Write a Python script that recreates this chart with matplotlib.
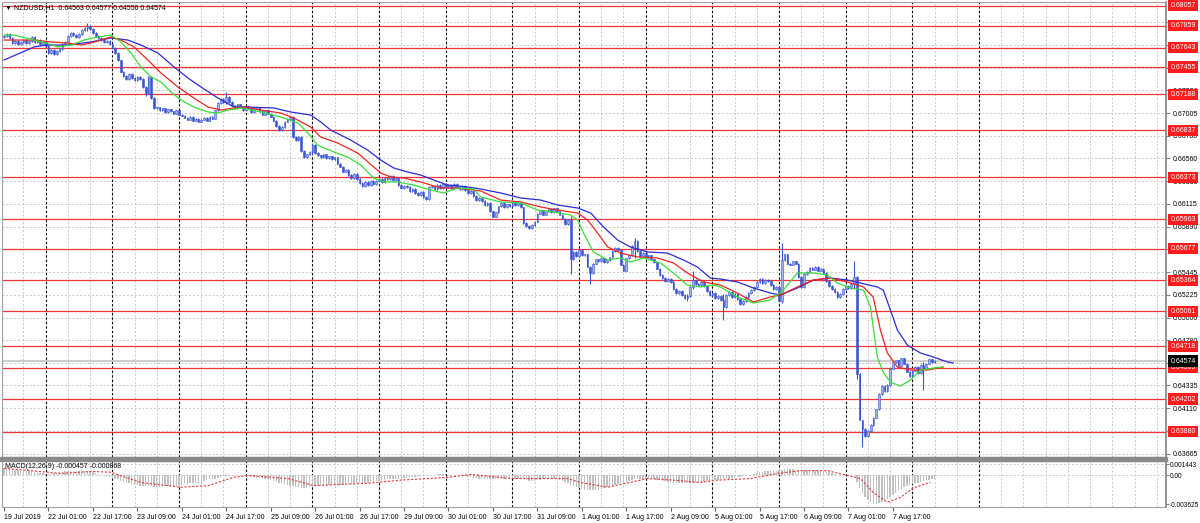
import numpy as np
import matplotlib.pyplot as plt
import matplotlib.transforms as mtransforms
from matplotlib.patches import Rectangle

plt.rcParams['font.family'] = ['Liberation Sans', 'DejaVu Sans']

# hourly closes, NZDUSD H1 (19 Jul 2019 09:00 .. 8 Aug 2019)
closes = [
    0.6776, 0.6778, 0.6774, 0.6769, 0.6771, 0.6768, 0.6770, 0.6772, 0.6769, 0.6771, 0.6775, 0.6770, 0.6772, 0.6768, 0.6770, 0.6766,
    0.6759, 0.6762, 0.6758, 0.6761, 0.6763, 0.6768, 0.6770, 0.6776, 0.6779, 0.6777, 0.6775, 0.6778, 0.6782, 0.6784, 0.6786, 0.6783,
    0.6779, 0.6776, 0.6774, 0.6772, 0.6770, 0.6771, 0.6768, 0.6764, 0.6759, 0.6752, 0.6741, 0.6737, 0.6734, 0.6739, 0.6735, 0.6733,
    0.6736, 0.6734, 0.6726, 0.6720, 0.6736, 0.6715, 0.6705, 0.6706, 0.6703, 0.6705, 0.6701, 0.6704, 0.6702, 0.6700, 0.6703, 0.6699,
    0.6698, 0.6696, 0.6694, 0.6697, 0.6693, 0.6695, 0.6692, 0.6694, 0.6696, 0.6693, 0.6697, 0.6695, 0.6703, 0.6710, 0.6714, 0.6711,
    0.6716, 0.6711, 0.6708, 0.6705, 0.6709, 0.6706, 0.6703, 0.6707, 0.6705, 0.6701, 0.6704, 0.6706, 0.6702, 0.6699, 0.6703, 0.6700,
    0.6697, 0.6693, 0.6688, 0.6684, 0.6687, 0.6692, 0.6695, 0.6697, 0.6677, 0.6674, 0.6677, 0.6663, 0.6657, 0.6660, 0.6662, 0.6669,
    0.6661, 0.6659, 0.6657, 0.6660, 0.6656, 0.6658, 0.6655, 0.6657, 0.6651, 0.6648, 0.6643, 0.6645, 0.6640, 0.6637, 0.6641, 0.6636,
    0.6632, 0.6629, 0.6633, 0.6630, 0.6634, 0.6631, 0.6634, 0.6636, 0.6633, 0.6637, 0.6636, 0.6639, 0.6635, 0.6637, 0.6630, 0.6627,
    0.6629, 0.6628, 0.6624, 0.6626, 0.6622, 0.6620, 0.6623, 0.6618, 0.6616, 0.6628, 0.6629, 0.6626, 0.6630, 0.6627, 0.6631, 0.6628,
    0.6630, 0.6627, 0.6631, 0.6628, 0.6626, 0.6629, 0.6625, 0.6622, 0.6624, 0.6619, 0.6615, 0.6617, 0.6614, 0.6610, 0.6612, 0.6604,
    0.6599, 0.6603, 0.6609, 0.6612, 0.6608, 0.6611, 0.6609, 0.6613, 0.6610, 0.6612, 0.6608, 0.6593, 0.6590, 0.6588, 0.6591, 0.6594,
    0.6602, 0.6605, 0.6601, 0.6604, 0.6606, 0.6603, 0.6607, 0.6604, 0.6601, 0.6597, 0.6592, 0.6596, 0.6557, 0.6564, 0.6560, 0.6566,
    0.6561, 0.6562, 0.6550, 0.6544, 0.6553, 0.6557, 0.6555, 0.6558, 0.6554, 0.6556, 0.6559, 0.6565, 0.6568, 0.6566, 0.6552, 0.6546,
    0.6558, 0.6561, 0.6570, 0.6575, 0.6565, 0.6560, 0.6563, 0.6559, 0.6561, 0.6557, 0.6554, 0.6548, 0.6542, 0.6539, 0.6536, 0.6538,
    0.6535, 0.6528, 0.6524, 0.6526, 0.6522, 0.6519, 0.6521, 0.6530, 0.6537, 0.6533, 0.6532, 0.6535, 0.6531, 0.6526, 0.6522, 0.6524,
    0.6519, 0.6521, 0.6517, 0.6510, 0.6522, 0.6525, 0.6520, 0.6523, 0.6518, 0.6513, 0.6516, 0.6520, 0.6524, 0.6527, 0.6530, 0.6535,
    0.6538, 0.6534, 0.6537, 0.6536, 0.6532, 0.6528, 0.6530, 0.6516, 0.6556, 0.6562, 0.6553, 0.6552, 0.6555, 0.6553, 0.6540, 0.6530,
    0.6543, 0.6545, 0.6549, 0.6547, 0.6550, 0.6546, 0.6548, 0.6544, 0.6536, 0.6531, 0.6528, 0.6525, 0.6520, 0.6523, 0.6528, 0.6531,
    0.6529, 0.6533, 0.6540, 0.6445, 0.6400, 0.6391, 0.6384, 0.6389, 0.6395, 0.6402, 0.6410, 0.6425, 0.6433, 0.6428, 0.6434, 0.6450,
    0.6456, 0.6458, 0.6453, 0.6460, 0.6455, 0.6447, 0.6443, 0.6448, 0.6452, 0.6446, 0.6454, 0.6450, 0.6455, 0.6459, 0.6456, 0.64574,
]
first_open = 0.6775
# bars with long wicks: index -> (high, low)
spikes = {30: (0.6789, 0.6781), 51: (0.6727, 0.6717), 80: (0.6721, 0.6709), 111: (0.6671, 0.6660),
          204: (0.6600, 0.6543), 211: (0.6551, 0.6533), 227: (0.6578, 0.6558), 246: (0.6523, 0.6516),
          248: (0.6546, 0.6528), 259: (0.6523, 0.6498), 280: (0.6573, 0.6514), 306: (0.6555, 0.6528),
          307: (0.6541, 0.6440), 309: (0.6400, 0.6373), 331: (0.6456, 0.6429)}

# horizontal levels and price scale
levels = [0.68057, 0.67859, 0.67643, 0.67455, 0.67188, 0.66837, 0.66373, 0.65963,
          0.65677, 0.65364, 0.65061, 0.64718, 0.64509, 0.64202, 0.63880]
last_price = 0.64574
price_ticks = [0.63665, 0.63885, 0.64110, 0.64335, 0.64555, 0.64780, 0.65000, 0.65225, 0.65445, 0.65670,
               0.65890, 0.66115, 0.66335, 0.66560, 0.66780, 0.67005, 0.67226, 0.67450, 0.67670, 0.67895]
# tick labels completely covered by a level box in the reference
covered_ticks = [0.63885, 0.64555, 0.65670, 0.67450]
time_labels = ["19 Jul 2019", "22 Jul 01:00", "22 Jul 17:00", "23 Jul 09:00", "24 Jul 01:00", "24 Jul 17:00",
               "25 Jul 09:00", "26 Jul 01:00", "26 Jul 17:00", "29 Jul 09:00", "30 Jul 01:00", "30 Jul 17:00",
               "31 Jul 09:00", "1 Aug 01:00", "1 Aug 17:00", "2 Aug 09:00", "5 Aug 01:00", "5 Aug 17:00",
               "6 Aug 09:00", "7 Aug 01:00", "7 Aug 17:00"]

# Alligator lines (bar position, price)
jaw_bar = [0, 10.8, 15.1, 23, 31.3, 38.5, 44.6, 49.3, 55.4, 61.2, 66.2, 70.9, 77, 82.7, 87, 97.1, 103.2, 110.4, 114, 117.6,
           124.8, 130.9, 135.6, 140.3, 145.3, 150, 154.7, 159.7, 166.9, 171.6, 178.8, 186, 193.2, 199.3, 206.5, 211.2,
           215.8, 220.9, 225.5, 231.7, 238.8, 244.6, 249.6, 254.3, 257.9, 264, 269.8, 275.9, 279.5, 285.6, 291.4, 297.5,
           303.6, 308.3, 314.4, 316.5, 319.1, 321.6, 325.2, 329.9, 334.5, 339.6, 341.7]
jaw_val = [0.67524, 0.67652, 0.67671, 0.67671, 0.67701, 0.67740, 0.67720, 0.67671, 0.67593, 0.67456, 0.67348, 0.67260,
           0.67152, 0.67064, 0.67064, 0.67054, 0.67015, 0.66985, 0.66917, 0.66838, 0.66740, 0.66642, 0.66544, 0.66466,
           0.66427, 0.66397, 0.66348, 0.66299, 0.66280, 0.66260, 0.66221, 0.66172, 0.66152, 0.66103, 0.66074, 0.66025,
           0.65888, 0.65760, 0.65692, 0.65643, 0.65633, 0.65564, 0.65496, 0.65388, 0.65378, 0.65349, 0.65290, 0.65241,
           0.65221, 0.65290, 0.65368, 0.65388, 0.65368, 0.65339, 0.65300, 0.65270, 0.65074, 0.64878, 0.64731, 0.64653,
           0.64614, 0.64565, 0.64555]
teeth_bar = [0, 10.8, 16.9, 23, 27.7, 31.3, 38.5, 42.1, 46.8, 51.8, 56.5, 62.6, 68.3, 73.4, 78.1, 82.7, 87, 92.4, 99.6,
             104.3, 110.4, 114, 120.1, 127.3, 133.1, 135.6, 139.2, 143.9, 150, 157.2, 163.3, 171.6, 178.8, 186, 193.2,
             199.3, 206.5, 210.1, 213.7, 217.3, 221.9, 228.1, 235.3, 241, 246, 251.8, 257.9, 264, 269.8, 275.9, 279.5,
             285.6, 291.4, 297.5, 303.6, 309.4, 312.9, 315.5, 318, 321.6, 326.3, 332.4, 338.1]
teeth_val = [0.67720, 0.67720, 0.67701, 0.67691, 0.67671, 0.67691, 0.67750, 0.67720, 0.67652, 0.67524, 0.67397, 0.67260,
             0.67152, 0.67064, 0.67034, 0.67054, 0.67064, 0.67034, 0.67005, 0.66956, 0.66868, 0.66770, 0.66711, 0.66613,
             0.66476, 0.66417, 0.66378, 0.66368, 0.66329, 0.66270, 0.66270, 0.66241, 0.66152, 0.66133, 0.66084, 0.66054,
             0.66025, 0.65956, 0.65829, 0.65692, 0.65633, 0.65594, 0.65584, 0.65535, 0.65437, 0.65349, 0.65319, 0.65241,
             0.65153, 0.65202, 0.65221, 0.65300, 0.65368, 0.65388, 0.65349, 0.65300, 0.65202, 0.64878, 0.64653, 0.64516,
             0.64486, 0.64486, 0.64516]
lips_bar = [0, 3.6, 10.8, 15.1, 19.4, 24.1, 28.8, 33.8, 38.5, 42.1, 45.7, 49.3, 52.9, 56.5, 60.1, 63.7, 68.3, 73.4, 77,
            80.6, 85.3, 92.4, 99.6, 105.8, 109.4, 112.9, 118.7, 123.7, 128.4, 133.1, 136.7, 141.7, 147.5, 153.6, 158.3,
            163.3, 169.1, 171.6, 178.8, 186, 192.1, 197.8, 204, 206.5, 208.6, 212.2, 217.3, 221.9, 225.5, 230.2, 236.3,
            241, 246, 250.7, 255.4, 257.9, 264, 269.8, 275.9, 280.6, 285.6, 291.4, 296.4, 300, 304.7, 309.4, 311.9,
            314.4, 316.5, 319.1, 322.7, 326.3, 329.9, 334.5, 337.8]
lips_val = [0.67769, 0.67769, 0.67720, 0.67691, 0.67652, 0.67671, 0.67720, 0.67750, 0.67769, 0.67701, 0.67593, 0.67456,
            0.67358, 0.67309, 0.67211, 0.67132, 0.67064, 0.67015, 0.67005, 0.67034, 0.67054, 0.67015, 0.66966, 0.66907,
            0.66809, 0.66691, 0.66623, 0.66574, 0.66495, 0.66368, 0.66329, 0.66329, 0.66299, 0.66250, 0.66221, 0.66270,
            0.66260, 0.66182, 0.66133, 0.66123, 0.66054, 0.66035, 0.66005, 0.65956, 0.65829, 0.65643, 0.65564, 0.65584,
            0.65545, 0.65584, 0.65535, 0.65437, 0.65319, 0.65300, 0.65319, 0.65300, 0.65202, 0.65143, 0.65172, 0.65270,
            0.65437, 0.65437, 0.65417, 0.65339, 0.65290, 0.65270, 0.65104, 0.64613, 0.64466, 0.64368, 0.64329, 0.64388,
            0.64486, 0.64505, 0.64515]

# MACD(12,26,9) main values per bar
macd_main = [
    0.0009, 0.0009, 0.0008, 0.0008, 0.0007, 0.0007, 0.0006, 0.0006, 0.0005, 0.0005, 0.0005, 0.0004, 0.0004, 0.0003, 0.0003, 0.0002,
    0.0002, 0.0002, 0.0003, 0.0003, 0.0004, 0.0004, 0.0005, 0.0005, 0.0006, 0.0006, 0.0006, 0.0006, 0.0005, 0.0005, 0.0005, 0.0004,
    0.0004, 0.0003, 0.0002, 0.0001, 0.0000, -0.0001, -0.0002, -0.0003, -0.0004, -0.0005, -0.0007, -0.0008, -0.0009, -0.0010, -0.0011, -0.0012,
    -0.0012, -0.0013, -0.0013, -0.0014, -0.0014, -0.0014, -0.0015, -0.0015, -0.0015, -0.0014, -0.0014, -0.0014, -0.0013, -0.0013, -0.0013, -0.0012,
    -0.0012, -0.0011, -0.0011, -0.0010, -0.0010, -0.0009, -0.0009, -0.0008, -0.0007, -0.0006, -0.0005, -0.0004, -0.0004, -0.0003, -0.0002, -0.0001,
    -0.0001, 0.0000, 0.0000, 0.0001, 0.0001, 0.0000, 0.0000, -0.0001, -0.0001, -0.0002, -0.0002, -0.0003, -0.0003, -0.0004, -0.0004, -0.0005,
    -0.0006, -0.0007, -0.0008, -0.0009, -0.0010, -0.0011, -0.0012, -0.0013, -0.0014, -0.0015, -0.0015, -0.0016, -0.0016, -0.0016, -0.0015, -0.0015,
    -0.0014, -0.0014, -0.0013, -0.0013, -0.0013, -0.0012, -0.0012, -0.0012, -0.0012, -0.0012, -0.0012, -0.0011, -0.0011, -0.0011, -0.0010, -0.0010,
    -0.0010, -0.0009, -0.0009, -0.0009, -0.0008, -0.0008, -0.0007, -0.0007, -0.0006, -0.0006, -0.0005, -0.0005, -0.0004, -0.0004, -0.0004, -0.0003,
    -0.0003, -0.0003, -0.0002, -0.0002, -0.0002, -0.0001, -0.0001, -0.0001, 0.0000, 0.0000, 0.0001, 0.0001, 0.0002, 0.0002, 0.0002, 0.0002,
    0.0001, 0.0001, 0.0001, 0.0000, 0.0000, -0.0001, -0.0001, -0.0002, -0.0002, -0.0003, -0.0003, -0.0004, -0.0004, -0.0005, -0.0005, -0.0005,
    -0.0005, -0.0005, -0.0005, -0.0005, -0.0005, -0.0004, -0.0004, -0.0004, -0.0004, -0.0004, -0.0004, -0.0005, -0.0006, -0.0007, -0.0007, -0.0007,
    -0.0006, -0.0006, -0.0005, -0.0005, -0.0005, -0.0005, -0.0005, -0.0005, -0.0006, -0.0007, -0.0008, -0.0009, -0.0012, -0.0014, -0.0015, -0.0016,
    -0.0017, -0.0018, -0.0018, -0.0019, -0.0019, -0.0018, -0.0018, -0.0017, -0.0016, -0.0015, -0.0014, -0.0013, -0.0012, -0.0011, -0.0010, -0.0009,
    -0.0008, -0.0007, -0.0006, -0.0005, -0.0005, -0.0004, -0.0004, -0.0004, -0.0004, -0.0005, -0.0005, -0.0006, -0.0006, -0.0007, -0.0007, -0.0008,
    -0.0008, -0.0009, -0.0009, -0.0010, -0.0010, -0.0010, -0.0010, -0.0009, -0.0009, -0.0009, -0.0008, -0.0008, -0.0008, -0.0007, -0.0007, -0.0007,
    -0.0006, -0.0006, -0.0005, -0.0005, -0.0004, -0.0004, -0.0003, -0.0003, -0.0002, -0.0002, -0.0001, -0.0001, 0.0000, 0.0001, 0.0002, 0.0003,
    0.0004, 0.0004, 0.0005, 0.0005, 0.0006, 0.0006, 0.0006, 0.0007, 0.0007, 0.0008, 0.0008, 0.0008, 0.0008, 0.0007, 0.0007, 0.0007, 0.0007,
    0.0007, 0.0007, 0.0007, 0.0007, 0.0006, 0.0006, 0.0005, 0.0005, 0.0004, 0.0003, 0.0002, 0.0001, 0.0000, 0.0000, -0.0001, -0.0001,
    0.0000, 0.0000, -0.0008, -0.0016, -0.0022, -0.0027, -0.0031, -0.0034, -0.0036, -0.0036, -0.0035, -0.0034, -0.0032, -0.0030, -0.0028, -0.0025,
    -0.0022, -0.0019, -0.0017, -0.0015, -0.0013, -0.0012, -0.0011, -0.0010, -0.0009, -0.0008, -0.0007, -0.0006, -0.0006, -0.0005, -0.000457,
]
signal_bar = [0, 15.8, 20.5, 31.3, 38.5, 49.3, 63.7, 73.4, 82.7, 87.8, 102.2, 111.5, 130.9, 142.8, 159.7, 168, 182.4,
              202.9, 207.6, 217.3, 231.7, 241, 250.7, 256.8, 268.7, 278.4, 286.7, 296.4, 303.6, 308.3, 313, 318,
              322.7, 327.3, 333.5]
signal_val = [0.0009, 0.0004, 0.00025, 0.0005, 0.0004, -0.0009, -0.0015, -0.0013, -0.00025, 0.0, -0.0004, -0.0013,
              -0.0010, -0.0006, -0.00025, 0.00013, -0.0004, -0.0004, -0.0009, -0.0015, -0.0004, -0.0006, -0.0009,
              -0.0006, -0.0004, 0.00025, 0.0006, 0.0006, 0.0, -0.0004, -0.0022, -0.0034, -0.0028, -0.0016, -0.000868]
macd_ticks = [0.001443, 0.0, -0.003625]

# ---- layout in pixels ----
W, H = 1200, 523
fig = plt.figure(figsize=(W / 100, H / 100), dpi=100, facecolor='white')


def box(x0, y0, x1, y1):
    return [x0 / W, 1 - y1 / H, (x1 - x0) / W, (y1 - y0) / H]


ax = fig.add_axes(box(2, 2, 1166, 457))
ax2 = fig.add_axes(box(2, 461, 1166, 507))

n = len(closes)
x = np.arange(n)
xlim = (-0.72, 418.3)

# grid: light dotted every 8 bars, black dashed day separators
for a in (ax, ax2):
    for g in np.arange(-1, 420, 8):
        a.axvline(g, color='#c8c8c8', lw=0.7, ls=(0, (2, 2)), zorder=0)
    for d in np.arange(15, 420, 24)[:15]:
        a.axvline(d, color='black', lw=0.8, ls=(0, (2, 2)), zorder=0.5)

for t in price_ticks:
    ax.axhline(t, color='#c8c8c8', lw=0.7, ls=(0, (2, 2)), zorder=0)
ax.axhline(last_price, color='#c4c4c4', lw=1.2, zorder=0.6)
for lv in levels:
    ax.axhline(lv, color='#ee3535', lw=0.9, zorder=1)

# candles
opens = [first_open] + closes[:-1]
wick = 0.00008
for i, (o, c) in enumerate(zip(opens, closes)):
    hi, lo = spikes.get(i, (max(o, c) + wick, min(o, c) - wick))
    bull = c >= o
    ax.vlines(i, lo, hi, color='#3a55d0', lw=0.8, zorder=2)
    ax.bar(i, max(abs(c - o), 0.00003), bottom=min(o, c), width=0.6,
           color='#9fb2f0' if bull else '#3a55d0', edgecolor='#3a55d0', lw=0.4, zorder=2.1)

# alligator
ax.plot(jaw_bar, jaw_val, color='#2b2bd6', lw=0.9, zorder=3)
ax.plot(teeth_bar, teeth_val, color='#e8261f', lw=0.9, zorder=3)
ax.plot(lips_bar, lips_val, color='#38dd38', lw=0.9, zorder=3)

ax.set_xlim(*xlim)
ax.set_ylim(0.636338, 0.680928)
ax.set_xticks([])
ax.yaxis.tick_right()
ax.set_yticks(price_ticks)
ax.set_yticklabels(['' if t in covered_ticks else f'{t:.5f}' for t in price_ticks])
ax.tick_params(axis='y', labelsize=5, length=3, pad=2, color='#808080')

# price boxes on the right scale
trans = mtransforms.blended_transform_factory(ax.transAxes, ax.transData)
for lv in levels:
    ax.text(1.0 + 4.5 / 1164, lv, f'{lv:.5f}', transform=trans, fontsize=5, color='white',
            va='center', ha='left', clip_on=False, zorder=10,
            bbox=dict(boxstyle='square,pad=0.3', fc='#ff1c1c', ec='none'))
ax.text(1.0 + 4.5 / 1164, last_price, f'{last_price:.5f}', transform=trans, fontsize=5, color='white',
        va='center', ha='left', clip_on=False, zorder=11,
        bbox=dict(boxstyle='square,pad=0.3', fc='black', ec='none'))

# MACD panel
ax2.bar(x, macd_main, width=0.5, color='#c0c0c0', zorder=1)
ax2.plot(signal_bar, signal_val, color='#e03a3a', lw=0.8, ls=(0, (2, 1.5)), zorder=2)
ax2.axhline(0, color='#c8c8c8', lw=0.7, ls=(0, (2, 2)), zorder=0)
ax2.axhline(macd_ticks[0], color='#c8c8c8', lw=0.7, ls=(0, (2, 2)), zorder=0)
ax2.set_xlim(*xlim)
ax2.set_ylim(-0.004004, 0.001824)
ax2.yaxis.tick_right()
ax2.set_yticks(macd_ticks)
ax2.set_yticklabels(['0.001443', '0.00', '-0.003625'])
ax2.tick_params(axis='y', labelsize=4.7, length=2, pad=1, color='#808080')
ax2.set_xticks(np.arange(len(time_labels)) * 16)
ax2.set_xticklabels(time_labels, ha='left')
ax2.tick_params(axis='x', labelsize=5, length=3, pad=2, color='#606060')

for a in (ax, ax2):
    a.set_facecolor('white')
    for s in a.spines.values():
        s.set_color('#a0a0a0')
        s.set_linewidth(0.8)
    a.spines['right'].set_color('#808080')
    a.spines['right'].set_linewidth(1.2)

# separator between the windows
fig.add_artist(Rectangle((0, 1 - 460.5 / H), 1167 / W, 3.5 / H, transform=fig.transFigure,
                         color='#8a8a8a', zorder=5))

fig.text(5 / W, 1 - 8 / H, '\u25bc NZDUSD,H1  0.64563 0.64577 0.64556 0.64574', fontsize=5, va='center')
fig.text(5 / W, 1 - 467 / H, 'MACD(12,26,9) -0.000457 -0.000868', fontsize=5, va='center')

fig.savefig('out.png', dpi=100, facecolor='white')
